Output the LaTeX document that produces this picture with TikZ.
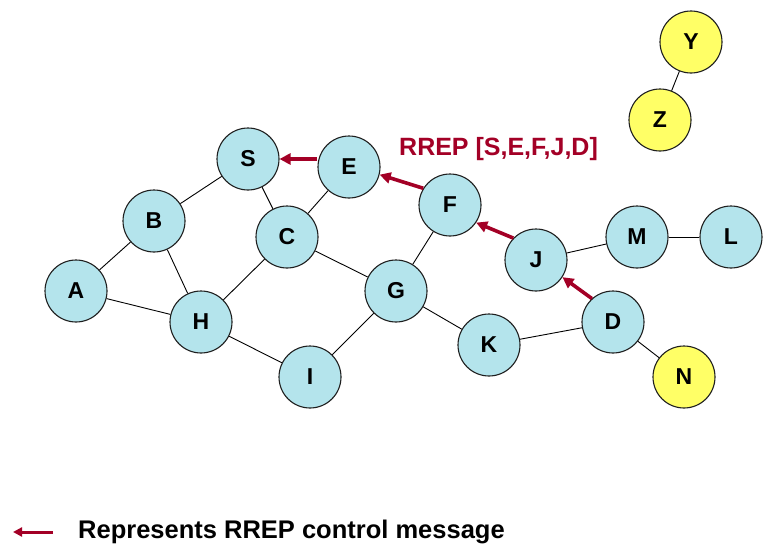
\documentclass[tikz,border=0pt]{standalone}
\usepackage{fontspec}
\setmainfont{Liberation Sans}
\usetikzlibrary{arrows.meta}
\definecolor{rrepred}{RGB}{163,0,38}
\definecolor{nodecyan}{RGB}{180,228,236}
\definecolor{nodeyellow}{RGB}{255,255,102}
\tikzset{
  net/.style={circle, minimum size=62pt, inner sep=0pt, draw={rgb,255:red,30;green,30;blue,30}, line width=1.1pt, font=\fontsize{23}{23}\selectfont\bfseries},
  cyannode/.style={net, fill=nodecyan},
  yellownode/.style={net, fill=nodeyellow},
  link/.style={draw=black, line width=0.9pt},
  rrep/.style={draw=rrepred, line width=3.6pt, -{Triangle[length=11pt,width=11pt]}},
  legendarrow/.style={draw=rrepred, line width=3pt, -{Triangle[length=9pt,width=9pt]}}
}
\begin{document}
\begin{tikzpicture}[x=1pt,y=-1pt]
\useasboundingbox (0,0) rectangle (771,554);
% nodes
\node[yellownode] (Y) at (691,42) {Y};
\node[yellownode] (Z) at (660,120) {Z};
\node[cyannode] (S) at (248,159) {S};
\node[cyannode] (E) at (349,167) {E};
\node[cyannode] (F) at (450,205) {F};
\node[cyannode] (B) at (154,221) {B};
\node[cyannode] (C) at (287,237) {C};
\node[cyannode] (J) at (536,260) {J};
\node[cyannode] (M) at (637,237) {M};
\node[cyannode] (L) at (731,237) {L};
\node[cyannode] (A) at (76,291) {A};
\node[cyannode] (G) at (396,291) {G};
\node[cyannode] (H) at (201,322) {H};
\node[cyannode] (D) at (613,322) {D};
\node[cyannode] (K) at (489,345) {K};
\node[cyannode] (I) at (310,377) {I};
\node[yellownode] (N) at (684,377) {N};
% links
\draw[link] (Y) -- (Z);
\draw[link] (S) -- (B);
\draw[link] (S) -- (C);
\draw[link] (E) -- (C);
\draw[link] (B) -- (A);
\draw[link] (B) -- (H);
\draw[link] (A) -- (H);
\draw[link] (C) -- (H);
\draw[link] (C) -- (G);
\draw[link] (H) -- (I);
\draw[link] (I) -- (G);
\draw[link] (G) -- (F);
\draw[link] (G) -- (K);
\draw[link] (K) -- (D);
\draw[link] (J) -- (M);
\draw[link] (M) -- (L);
\draw[link] (D) -- (N);
% RREP arrows
\draw[rrep] (E.west |- S.east) -- (S.east);
\draw[rrep] (F.148) -- (E.-14);
\draw[rrep] (J.136) -- (F.-34);
\draw[rrep] (D.132) -- (J.-33);
% label
\node[anchor=west, text=rrepred, font=\fontsize{25}{25}\selectfont\bfseries, inner sep=0pt] (lbl) at (399,149) {RREP [S,E,F,J,D]};
% legend
\coordinate (l1) at (53,532);
\coordinate (l0) at (13,532);
\draw[legendarrow] (l1) -- (l0);
\node[anchor=west, font=\fontsize{25.5}{25.5}\selectfont\bfseries, inner sep=0pt] (leg) at (78,532) {Represents RREP control message};
\end{tikzpicture}
\end{document}
